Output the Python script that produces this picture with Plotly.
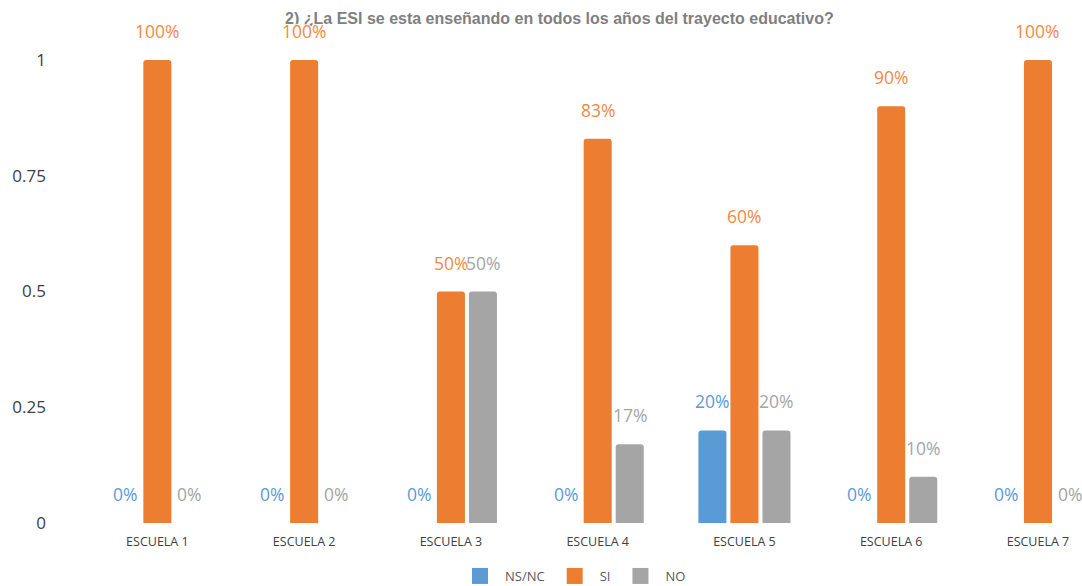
import plotly.graph_objects as go

categories = ["ESCUELA 1", "ESCUELA 2", "ESCUELA 3", "ESCUELA 4", "ESCUELA 5", "ESCUELA 6", "ESCUELA 7"]
series_names = ["NS/NC", "SI", "NO"]
nsnc = [0, 0, 0, 0, 0.2, 0, 0]
si = [1, 1, 0.5, 0.83, 0.6, 0.9, 1]
no = [0, 0, 0.5, 0.17, 0.2, 0.1, 0]
tick_vals = [0, 0.25, 0.5, 0.75, 1]
tick_text = ["0", "0.25", "0.5", "0.75", "1"]

colors = ["#5b9bd5", "#ed7d31", "#a5a5a5"]
label_colors = ["#5b9bd5", "#f08a45", "#a5a5a5"]
series = [nsnc, si, no]

fig = go.Figure()
for name, vals, col in zip(series_names, series, colors):
    fig.add_trace(go.Bar(
        x=categories, y=vals, name=name, showlegend=False,
        marker=dict(color=col, line=dict(width=0), cornerradius=3),
        hoverinfo="skip",
    ))
# legend entries with larger square swatches
for name, col in zip(series_names, colors):
    fig.add_trace(go.Scatter(
        x=[None], y=[None], name=name, mode="markers",
        marker=dict(symbol="square", size=16, color=col),
        hoverinfo="skip",
    ))

# value labels above bars
offsets = [-32, 0, 32]
for vals, lc, off in zip(series, label_colors, offsets):
    for c, v in zip(categories, vals):
        fig.add_annotation(
            x=c, y=v, text=f"{round(v*100)}%", showarrow=False,
            xshift=off, yshift=29, yanchor="middle", xanchor="center",
            font=dict(family="Open Sans", size=17.5, color=lc,
                      shadow="1px 0 1px white, -1px 0 1px white, 0 1px 1px white, 0 -1px 1px white"),
        )

fig.update_layout(
    width=1082, height=586,
    margin=dict(l=84, r=0, t=10, b=63),
    paper_bgcolor="white", plot_bgcolor="white",
    barmode="group", bargap=0.345, bargroupgap=0.125,
    title=dict(
        text="2) ¿La ESI se esta enseñando en todos los años del trayecto educativo?",
        x=0.517, xanchor="center", y=1 - 18/586, yanchor="middle", yref="container",
        font=dict(family="Liberation Sans", size=16, color="#7f7f7f", weight="bold"),
    ),
    xaxis=dict(
        range=[-0.5, 6.3], showgrid=False, showline=False, zeroline=False,
        tickfont=dict(family="Open Sans", size=12.5, color="#404040"),
        ticks="", automargin=False, ticklabelstandoff=9,
    ),
    yaxis=dict(
        range=[0, 1.108], tickvals=tick_vals, ticktext=tick_text,
        showgrid=False, zeroline=False, showline=False,
        tickfont=dict(family="Open Sans", size=17, color="#404040"),
        ticklabelstandoff=37, automargin=False,
    ),
    legend=dict(
        orientation="h", x=0.49, xanchor="center", y=1 - 576/586, yanchor="middle",
        yref="container",
        font=dict(family="Open Sans", size=13, color="#595959"),
        itemwidth=40,
    ),
    showlegend=True,
)

fig.write_html("out.html", config={"displayModeBar": False},
               post_script="document.body.style.margin='0';document.body.style.overflow='hidden';")
